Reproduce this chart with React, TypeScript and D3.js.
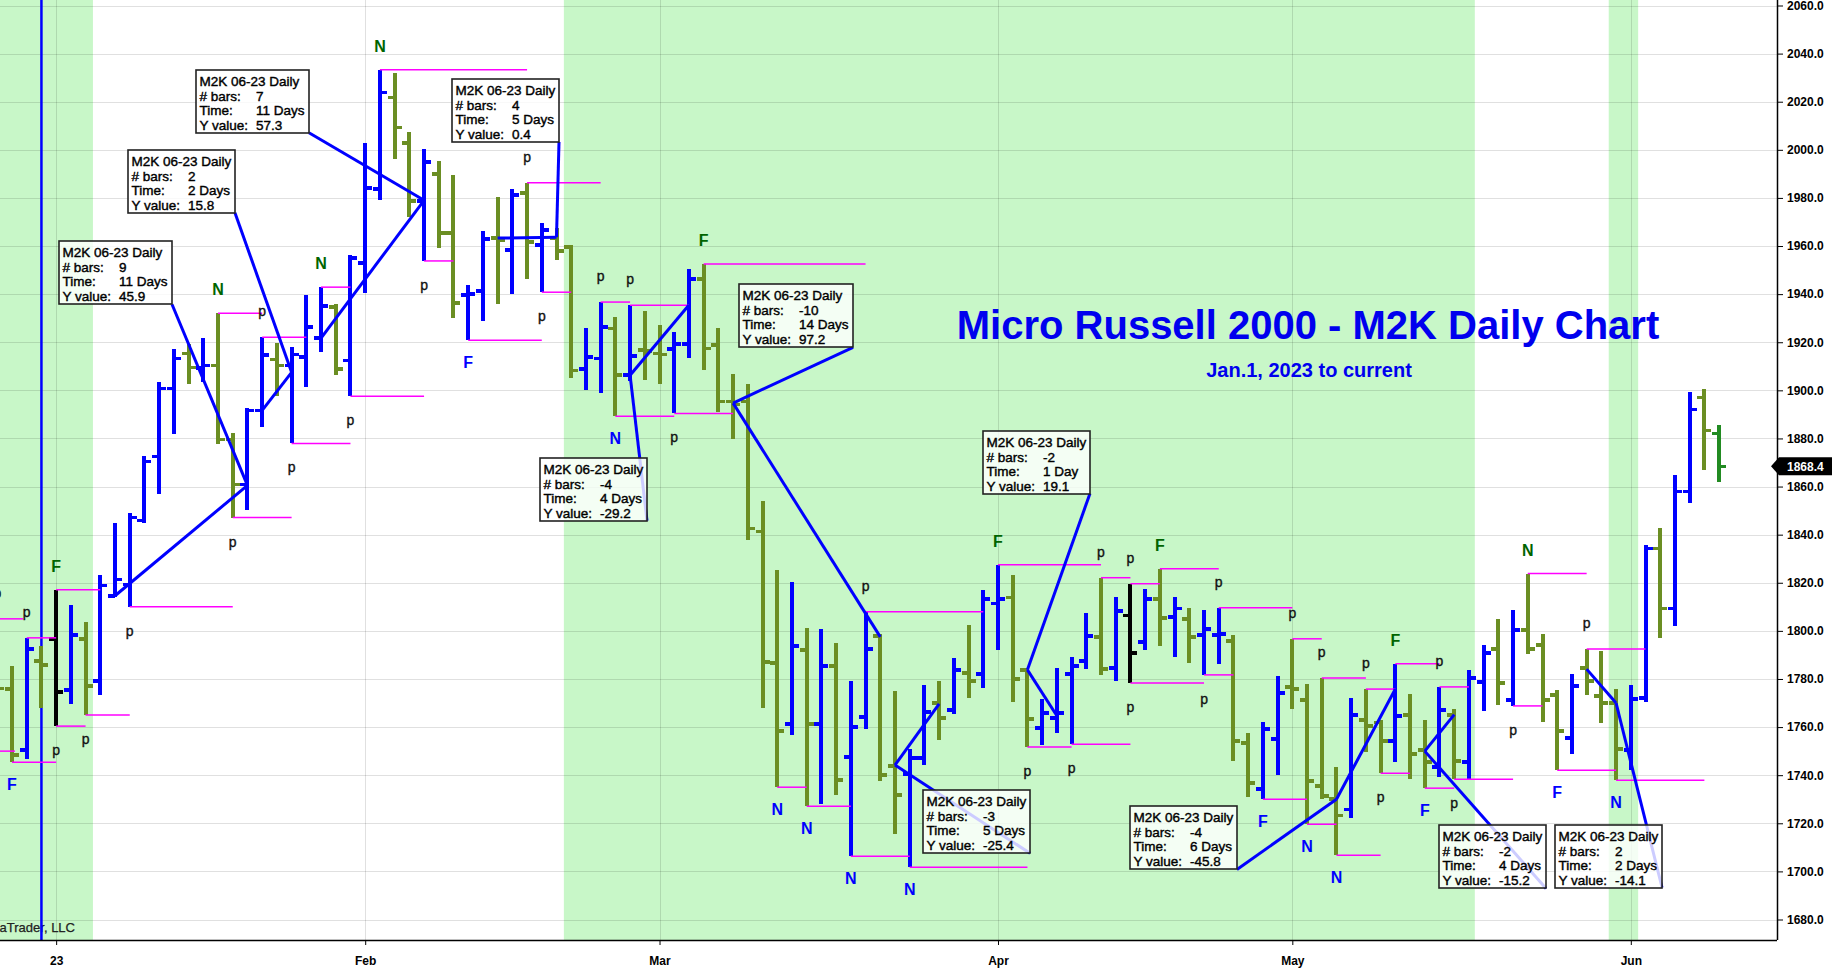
import React, { useEffect, useRef } from 'react';
import * as d3 from 'd3';

const WIDTH = 1832;
const HEIGHT = 970;
const FONT = "'Liberation Sans', Arial, sans-serif";

// Daily sessions, first entry is bar -1 (Dec 27 2022), bar 0 = Dec 28 ... bar 116 = Jun 9 2023
const FIRST_BAR = -1;
const opens = [
  1790,
  1775.8, 1750.4, 1787.5, 1796.7, 1775.4, 1796.7, 1779.2, 1814.6, 1819.2, 1845.8,
  1872.5, 1900.8, 1915.4, 1909.2, 1910.4, 1879.6, 1860.8, 1891.7, 1912.9, 1910.4,
  1913.8, 1921.7, 1934.6, 1912.5, 1952.9, 1983.8, 2021.7, 2002.9, 1978.8, 1990,
  1965.4, 1939.6, 1941.3, 1963.3, 1958.3, 1982.1, 1960.4, 1963.3, 1959.6, 1908.8,
  1913.3, 1925.8, 1906.3, 1916.7, 1915.4, 1917.1, 1919.2, 1946.3, 1918.8, 1895.4,
  1895.4, 1841.3, 1786.7, 1761.3, 1792.1, 1761.3, 1785.4, 1747.5, 1764.2, 1797.9,
  1743.8, 1740.4, 1747.1, 1770, 1767.1, 1782.5, 1782.1, 1811.3, 1813.8, 1783.8,
  1759.6, 1763.8, 1782.1, 1787.5, 1797.5, 1784.6, 1806.3, 1795.4, 1813.3, 1805.8,
  1805, 1798.3, 1798.3, 1795.8, 1753.3, 1734.2, 1755, 1776.7, 1771.3, 1735.4,
  1730, 1725.8, 1763, 1762, 1754.2, 1765, 1750.4, 1743.3, 1765, 1745.4,
  1778.8, 1792.5, 1771.3, 1800.4, 1794.2, 1773.3, 1755.4, 1784.6, 1773, 1770,
  1750.4, 1772.1, 1834.2, 1809.2, 1857.9, 1897.1, 1882.1,
];
const highs = [
  1805,
  1785.4, 1797.1, 1793.8, 1817.1, 1810.8, 1803.8, 1823.3, 1845, 1849.2, 1872.9,
  1903.3, 1917.1, 1919.2, 1921.7, 1932.1, 1882.1, 1892.5, 1922.1, 1919.6, 1917.9,
  1939.6, 1942.9, 1935.8, 1956.3, 2002.9, 2033.3, 2032.1, 2007.5, 2000.4, 1995.4,
  1989.6, 1943.8, 1966.3, 1980.4, 1983.8, 1986.3, 1969.6, 1967.5, 1960.4, 1925.8,
  1936.7, 1930.4, 1935.4, 1932.9, 1927.1, 1924.2, 1950.4, 1952.5, 1925.8, 1906.7,
  1902.5, 1854.2, 1825.4, 1820.4, 1801.3, 1800.8, 1795, 1779.2, 1807.9, 1798.8,
  1775, 1750.8, 1777.5, 1779.2, 1788.8, 1802.5, 1817.1, 1827.5, 1823.3, 1784.2,
  1771.7, 1784.6, 1789.2, 1807.5, 1822.1, 1814.2, 1819.6, 1817.5, 1825.8, 1814.2,
  1809.6, 1808.8, 1809.6, 1798.3, 1757.5, 1762.1, 1781.3, 1796.7, 1777.9, 1780.4,
  1743.3, 1772.1, 1775.8, 1762.9, 1786.3, 1773.8, 1762.9, 1776.7, 1767.5, 1783.8,
  1794.2, 1805, 1808.8, 1823.8, 1798.8, 1775.4, 1782.1, 1792.5, 1791.7, 1775.8,
  1777.5, 1835.8, 1842.9, 1864.6, 1899.2, 1900.4, 1885.4,
];
const lows = [
  1750,
  1745.4, 1746.7, 1767.9, 1760.4, 1769.6, 1765, 1773.3, 1814.2, 1810, 1845,
  1857.1, 1881.7, 1902.5, 1903.3, 1877.5, 1847.1, 1850.4, 1884.6, 1897.5, 1877.9,
  1901.3, 1915.8, 1906.3, 1897.5, 1940.4, 1979.2, 1996.3, 1972.1, 1953.8, 1959.2,
  1930, 1920.8, 1928.8, 1935.8, 1940, 1946.3, 1940.8, 1954.2, 1905, 1900,
  1898.8, 1889.2, 1903.8, 1904.2, 1902.5, 1890.4, 1913.3, 1908.3, 1890.8, 1879.6,
  1837.9, 1767.9, 1735, 1756.7, 1727.1, 1727.9, 1731.7, 1706.3, 1759.2, 1737.5,
  1715.4, 1701.7, 1744.2, 1754.6, 1765.4, 1772.1, 1776.3, 1792.1, 1770.4, 1751.7,
  1752.5, 1757.5, 1752.9, 1784.2, 1781.7, 1779.2, 1778.3, 1792.1, 1793.8, 1789.2,
  1786.7, 1781.7, 1786.3, 1745.8, 1730.8, 1730, 1740, 1767.5, 1719.6, 1730,
  1706.7, 1722.1, 1749.6, 1740.8, 1745.4, 1738.3, 1734.6, 1739.2, 1738.3, 1738.3,
  1766.7, 1769.2, 1768.8, 1790.4, 1762.1, 1742.1, 1748.8, 1773.3, 1761.7, 1737.9,
  1742.1, 1770.4, 1797.1, 1802.1, 1853.3, 1866.7, 1862.1,
];
const closes = [
  1776,
  1748.3, 1792.5, 1785.8, 1774.6, 1798.3, 1777.1, 1818.8, 1821.3, 1847.1, 1870.4,
  1900.8, 1913.3, 1909.6, 1910.4, 1879.6, 1860.8, 1891.7, 1914.6, 1910.4, 1915,
  1926.3, 1935, 1908.8, 1955, 1984.2, 2023.8, 2009.2, 1978.8, 1995, 1965.4,
  1936.3, 1940, 1962.9, 1962.5, 1981.3, 1961.7, 1966.7, 1957.9, 1908.3, 1913.8,
  1926.3, 1906.3, 1914.2, 1916.3, 1915, 1919.2, 1946.3, 1917.5, 1895.4, 1894.2,
  1842.5, 1787.1, 1758.3, 1793.8, 1761.3, 1785.4, 1737.9, 1760, 1792.5, 1740,
  1731.7, 1747.1, 1766.3, 1763.8, 1783.8, 1779.2, 1813.3, 1813.3, 1780, 1763.3,
  1765.8, 1765.8, 1785.4, 1797.9, 1784.2, 1808.3, 1790.8, 1813.3, 1805.4, 1809.2,
  1797.5, 1800.8, 1798.8, 1754.2, 1736.7, 1759.2, 1774.2, 1775.8, 1737.5, 1731.3,
  1723.3, 1765, 1760.4, 1754.2, 1764.6, 1748.8, 1745.4, 1767.1, 1745.8, 1780.4,
  1790.8, 1778.3, 1800.4, 1792.5, 1771.3, 1758.3, 1777.1, 1779.2, 1770, 1750.8,
  1771.7, 1834.2, 1809.2, 1857.9, 1892.1, 1883.3, 1868.4,
];
// outside bars painted in their own colour
const outsideBars = [3, 76];

const priceTicks = [1680, 1700, 1720, 1740, 1760, 1780, 1800, 1820, 1840, 1860, 1880, 1900, 1920, 1940, 1960, 1980, 2000, 2020, 2040, 2060];
const monthTickBars = [3, 24, 44, 67, 87, 110];
const monthTickLabels = ['23', 'Feb', 'Mar', 'Apr', 'May', 'Jun'];

// background highlight ranges, in bar units
const shadedRanges: [number, number][] = [[-2, 5.5], [37.5, 99.4], [108.5, 110.5]];
const sessionLineBar = 2;

// swing marks: [bar, side, label, level extends to bar]
const swings: [number, 'H' | 'L', string, number][] = [
  [-1, 'H', 'p', 0.75], [-1, 'L', '', 0.2], [0, 'L', 'F', 3], [1, 'H', 'p', 3],
  [3, 'H', 'F', 6], [3, 'L', 'p', 5], [5, 'L', 'p', 8], [8, 'L', 'p', 15],
  [14, 'H', 'N', 17], [15, 'L', 'p', 19], [17, 'H', 'p', 20], [19, 'L', 'p', 23],
  [21, 'H', 'N', 23], [23, 'L', 'p', 28], [25, 'H', 'N', 35], [28, 'L', 'p', 30],
  [31, 'L', 'F', 36], [35, 'H', 'p', 40], [36, 'L', 'p', 38], [40, 'H', 'p', 42],
  [41, 'L', 'N', 45], [42, 'H', 'p', 46], [45, 'L', 'p', 49], [47, 'H', 'F', 58],
  [52, 'L', 'N', 54], [54, 'L', 'N', 57], [57, 'L', 'N', 61], [58, 'H', 'p', 66],
  [61, 'L', 'N', 69], [67, 'H', 'F', 74], [69, 'L', 'p', 72], [72, 'L', 'p', 76],
  [74, 'H', 'p', 76], [76, 'H', 'p', 78], [76, 'L', 'p', 81], [78, 'H', 'F', 82],
  [81, 'L', 'p', 83], [82, 'H', 'p', 87], [85, 'L', 'F', 88], [87, 'H', 'p', 89],
  [88, 'L', 'N', 90], [89, 'H', 'p', 92], [90, 'L', 'N', 93], [92, 'H', 'p', 94],
  [93, 'L', 'p', 95], [94, 'H', 'F', 97], [96, 'L', 'F', 98], [97, 'H', 'p', 99],
  [98, 'L', 'p', 102], [102, 'L', 'p', 104], [103, 'H', 'N', 107], [105, 'L', 'F', 109],
  [107, 'H', 'p', 111], [109, 'L', 'N', 115],
];

// ruler drawings: [barA, priceA, barB, priceB, boxCornerBar, boxCornerPrice, bars, time, y value]
const rulers: [number, number, number, number, number, number, string, string, string][] = [
  [7, 1814.6, 16, 1860.5, 10.87, 1935.8, '9', '11 Days', '45.9'],
  [17, 1891.7, 19, 1907.5, 15.15, 1973.8, '2', '2 Days', '15.8'],
  [21, 1921.7, 28, 1979.0, 20.18, 2007.1, '7', '11 Days', '57.3'],
  [33, 1963.3, 37, 1963.7, 37.17, 2003.3, '4', '5 Days', '0.4'],
  [46, 1935.5, 42, 1906.3, 43.15, 1845.8, '-4', '4 Days', '-29.2'],
  [59, 1797.5, 49, 1894.7, 57.15, 1917.9, '-10', '14 Days', '97.2'],
  [63, 1769.6, 60, 1744.2, 69.18, 1707.5, '-3', '5 Days', '-25.4'],
  [71, 1764.7, 69, 1783.8, 73.25, 1857.1, '-2', '1 Day', '19.1'],
  [94, 1775.8, 90, 1730.0, 83.24, 1700.8, '-4', '6 Days', '-45.8'],
  [98, 1765.2, 96, 1750.0, 104.24, 1692.9, '-2', '4 Days', '-15.2'],
  [107, 1784.1, 109, 1770.0, 112.12, 1693.3, '2', '2 Days', '-14.1'],
];

const BLUE = '#0000ff';
const OLIVE = '#6b8e23';
const GREEN_LABEL = '#006400';

export default function App() {
  const svgRef = useRef<SVGSVGElement>(null);

  useEffect(() => {
    if (!svgRef.current) return;
    const svg = d3.select(svgRef.current);
    svg.selectAll('*').remove();

    const plotRight = 1777;
    const plotBottom = 940;
    const lastBar = FIRST_BAR + closes.length - 1;

    const x = d3.scaleLinear().domain([0, 116]).range([12, 1719.1]);
    const y = d3.scaleLinear().domain([1680, 2060]).range([919.5, 5.5]);

    svg.append('defs').append('clipPath').attr('id', 'plot-clip')
      .append('rect').attr('x', 0).attr('y', 0).attr('width', plotRight).attr('height', plotBottom);

    svg.append('rect').attr('width', WIDTH).attr('height', HEIGHT).attr('fill', '#fff');

    const g = svg.append('g').attr('clip-path', 'url(#plot-clip)');

    // Background shading
    g.append('g').selectAll('rect').data(shadedRanges).join('rect')
      .attr('x', d => x(d[0])).attr('width', d => x(d[1]) - x(d[0]))
      .attr('y', 0).attr('height', plotBottom).attr('fill', '#c8f7c8');

    // Grid
    const grid = g.append('g').attr('stroke', 'rgba(0,0,0,0.12)').attr('shape-rendering', 'crispEdges');
    grid.selectAll('line.h').data(priceTicks).join('line').attr('class', 'h')
      .attr('x1', 0).attr('x2', plotRight)
      .attr('y1', d => Math.round(y(d)) + 0.5).attr('y2', d => Math.round(y(d)) + 0.5);
    grid.selectAll('line.v').data(monthTickBars).join('line').attr('class', 'v')
      .attr('x1', d => Math.round(x(d)) + 0.5).attr('x2', d => Math.round(x(d)) + 0.5)
      .attr('y1', 0).attr('y2', plotBottom);

    g.append('text').attr('x', 75).attr('y', 932).attr('text-anchor', 'end')
      .attr('font-family', FONT).attr('font-size', 13).attr('fill', '#222')
      .attr('stroke', '#222').attr('stroke-width', 0.25)
      .text('© 2023 NinjaTrader, LLC');

    // Session divider
    g.append('line')
      .attr('x1', x(sessionLineBar)).attr('x2', x(sessionLineBar))
      .attr('y1', 0).attr('y2', plotBottom)
      .attr('stroke', BLUE).attr('stroke-width', 2.5);

    // OHLC bars
    const bars = opens.map((o, k) => ({ i: k + FIRST_BAR, o, h: highs[k], l: lows[k], c: closes[k] }));
    const barColor = (d: typeof bars[number]) =>
      d.i === lastBar ? '#228b22' : outsideBars.includes(d.i) ? '#000' : d.c >= d.o ? BLUE : OLIVE;

    const barG = g.append('g').attr('shape-rendering', 'crispEdges');
    const bar = barG.selectAll('g').data(bars).join('g').attr('stroke', d => barColor(d));
    bar.append('line')
      .attr('x1', d => x(d.i)).attr('x2', d => x(d.i))
      .attr('y1', d => y(d.h)).attr('y2', d => y(d.l)).attr('stroke-width', 4);
    bar.append('line')
      .attr('x1', d => x(d.i) - 7).attr('x2', d => x(d.i))
      .attr('y1', d => y(d.o)).attr('y2', d => y(d.o)).attr('stroke-width', 3.5);
    bar.append('line')
      .attr('x1', d => x(d.i)).attr('x2', d => x(d.i) + 7)
      .attr('y1', d => y(d.c)).attr('y2', d => y(d.c)).attr('stroke-width', 3.5);

    // Swing levels
    const priceAt = (i: number, side: 'H' | 'L') => (side === 'H' ? highs : lows)[i - FIRST_BAR];
    g.append('g').selectAll('line').data(swings).join('line')
      .attr('x1', d => x(d[0])).attr('x2', d => x(d[3]))
      .attr('y1', d => y(priceAt(d[0], d[1]))).attr('y2', d => y(priceAt(d[0], d[1])))
      .attr('stroke', '#ff00ff').attr('stroke-width', 1.5);

    // Ruler lines and connectors
    const rl = g.append('g').attr('stroke', BLUE).attr('stroke-width', 3).attr('fill', 'none');
    rulers.forEach(r => {
      rl.append('line').attr('x1', x(r[0])).attr('y1', y(r[1])).attr('x2', x(r[2])).attr('y2', y(r[3]));
      rl.append('line').attr('x1', x(r[2])).attr('y1', y(r[3])).attr('x2', x(r[4])).attr('y2', y(r[5]));
    });

    // Swing labels
    g.append('g').selectAll('text').data(swings.filter(d => d[2] !== '')).join('text')
      .attr('x', d => x(d[0]))
      .attr('y', d => {
        const isP = d[2] === 'p';
        return d[1] === 'H'
          ? y(priceAt(d[0], 'H')) - (isP ? 21 : 18)
          : y(priceAt(d[0], 'L')) + (isP ? 29 : 28);
      })
      .attr('text-anchor', 'middle')
      .attr('font-family', FONT)
      .attr('font-size', d => (d[2] === 'p' ? 14 : 16))
      .attr('font-weight', d => (d[2] === 'p' ? 'normal' : 'bold'))
      .attr('fill', d => (d[2] === 'p' ? '#111' : d[1] === 'H' ? GREEN_LABEL : BLUE))
      .attr('stroke', d => (d[2] === 'p' ? '#111' : 'none'))
      .attr('stroke-width', 0.35)
      .text(d => d[2]);

    // Ruler info boxes
    const boxes = g.append('g');
    rulers.forEach(r => {
      const box = boxes.append('g');
      const rect = box.append('rect');
      const rows: [string, string][] = [
        ['M2K 06-23 Daily', ''], ['# bars:', r[6]], ['Time:', r[7]], ['Y value:', r[8]],
      ];
      let maxW = 0;
      const addText = (tx: number, ty: number, s: string) =>
        box.append('text').attr('x', tx).attr('y', ty)
          .attr('font-family', FONT).attr('font-size', 13.5)
          .attr('fill', '#000').attr('stroke', '#000').attr('stroke-width', 0.4)
          .text(s);
      rows.forEach((row, k) => {
        const t = addText(3.5, 16 + k * 14.67, row[0]);
        maxW = Math.max(maxW, 3.5 + (t.node() as SVGTextElement).getComputedTextLength());
        if (row[1]) {
          const v = addText(60, 16 + k * 14.67, row[1]);
          maxW = Math.max(maxW, 60 + (v.node() as SVGTextElement).getComputedTextLength());
        }
      });
      const w = Math.round(maxW + 4);
      const h = 63;
      rect.attr('width', w).attr('height', h)
        .attr('fill', '#fff').attr('fill-opacity', 0.8)
        .attr('stroke', '#222').attr('stroke-width', 1.6);
      box.attr('transform', `translate(${Math.round(x(r[4])) - w},${Math.round(y(r[5])) - h})`);
    });

    // Title
    g.append('text').attr('x', 1308).attr('y', 339).attr('text-anchor', 'middle')
      .attr('font-family', FONT).attr('font-size', 40).attr('font-weight', 'bold').attr('fill', '#0000ee')
      .text('Micro Russell 2000 - M2K Daily Chart');
    g.append('text').attr('x', 1309).attr('y', 377).attr('text-anchor', 'middle')
      .attr('font-family', FONT).attr('font-size', 20).attr('font-weight', 'bold').attr('fill', '#0000ee')
      .text('Jan.1, 2023 to current');

    // Axes
    const yAxis = svg.append('g').attr('transform', `translate(${plotRight},0)`)
      .call(d3.axisRight(y).tickValues(priceTicks).tickFormat(d3.format('.1f')).tickSize(6).tickPadding(4));
    yAxis.select('.domain').remove();
    yAxis.selectAll('text').attr('font-family', FONT).attr('font-size', 12).attr('font-weight', 'bold').attr('fill', '#000');
    svg.append('line').attr('x1', plotRight + 0.5).attr('x2', plotRight + 0.5).attr('y1', 0).attr('y2', plotBottom)
      .attr('stroke', '#000').attr('stroke-width', 1.5);

    const xAxis = svg.append('g').attr('transform', `translate(0,${plotBottom})`)
      .call(d3.axisBottom(x).tickValues(monthTickBars)
        .tickFormat((d, k) => monthTickLabels[k]).tickSize(5).tickPadding(11));
    xAxis.select('.domain').remove();
    xAxis.selectAll('text').attr('font-family', FONT).attr('font-size', 12).attr('font-weight', 'bold').attr('fill', '#000');
    svg.append('line').attr('x1', 0).attr('x2', plotRight).attr('y1', plotBottom + 0.5).attr('y2', plotBottom + 0.5)
      .attr('stroke', '#000').attr('stroke-width', 1.5);

    // Last price marker
    const lastClose = closes[closes.length - 1];
    const ly = y(lastClose);
    const marker = svg.append('g').attr('transform', `translate(0,${ly})`);
    marker.append('path')
      .attr('d', `M${plotRight - 6},0 L${plotRight + 2},-9 L${WIDTH},-9 L${WIDTH},9 L${plotRight + 2},9 Z`)
      .attr('fill', '#000');
    marker.append('text').attr('x', plotRight + 10).attr('y', 4.5)
      .attr('font-family', FONT).attr('font-size', 12).attr('font-weight', 'bold').attr('fill', '#fff')
      .text(d3.format('.1f')(lastClose));
  }, []);

  return (
    <div style={{ position: 'absolute', left: 0, top: 0 }}>
      <svg ref={svgRef} width={WIDTH} height={HEIGHT} style={{ display: 'block' }} />
    </div>
  );
}
